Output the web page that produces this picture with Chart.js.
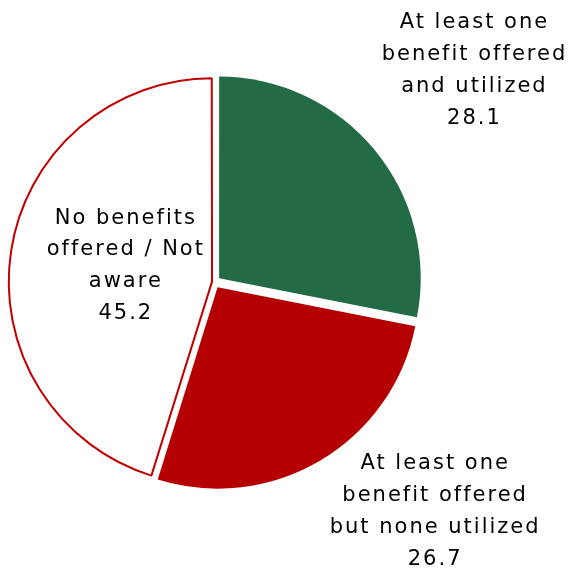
<!DOCTYPE html>
<html>
<head>
<meta charset="utf-8">
<script src="https://cdn.jsdelivr.net/npm/chart.js@4"></script>
<style>
  html, body { margin: 0; padding: 0; background: #fff; }
  #wrap { width: 569px; height: 582px; }
</style>
</head>
<body>
<div id="wrap"><canvas id="pie" width="569" height="582"></canvas></div>
<script>
let labels = [
  ['At least one', 'benefit offered', 'and utilized'],
  ['At least one', 'benefit offered', 'but none utilized'],
  ['No benefits', 'offered / Not', 'aware']
]
let values = [28.1, 26.7, 45.2]
let fills = ['#236a47', '#b40000', '#ffffff']
let borders = ['#236a47', '#b40000', '#c00000']
// label centre, in pie radii from the pie centre
let labelPos = [[1.285, -1.05], [1.09, 1.14], [-0.445, -0.08]]

const pieLabels = {
  id: 'pieLabels',
  afterDatasetsDraw(chart) {
    const ctx = chart.ctx
    const meta = chart.getDatasetMeta(0)
    ctx.save()
    ctx.font = '21px "DejaVu Sans"'
    ctx.letterSpacing = '2px'
    ctx.fillStyle = '#000'
    ctx.textAlign = 'center'
    ctx.textBaseline = 'middle'
    meta.data.forEach((arc, i) => {
      const r = arc.outerRadius
      const cx = arc.x + labelPos[i][0] * r
      const cy = arc.y + labelPos[i][1] * r
      const lines = labels[i].concat([values[i].toFixed(1)])
      const lh = 31.8
      lines.forEach((t, j) => {
        ctx.fillText(t, cx + 1, cy + (j - (lines.length - 1) / 2) * lh)
      })
    })
    ctx.restore()
  }
}

// chart.js draws arcs pushed out by offset / 4
const pieChart = new Chart(document.getElementById('pie'), {
  type: 'pie',
  data: {
    labels: labels.map(l => l.join(' ')),
    datasets: [{
      data: values,
      backgroundColor: fills,
      borderColor: borders,
      borderWidth: [0, 0, 2],
      offset: [24, 24, 10],
      hoverOffset: 0
    }]
  },
  options: {
    responsive: false,
    animation: false,
    devicePixelRatio: 1,
    layout: {
      padding: { left: -3, top: 66, right: 140, bottom: 84 }
    },
    plugins: {
      legend: { display: false },
      tooltip: { enabled: false }
    }
  },
  plugins: [pieLabels]
});
</script>
</body>
</html>
